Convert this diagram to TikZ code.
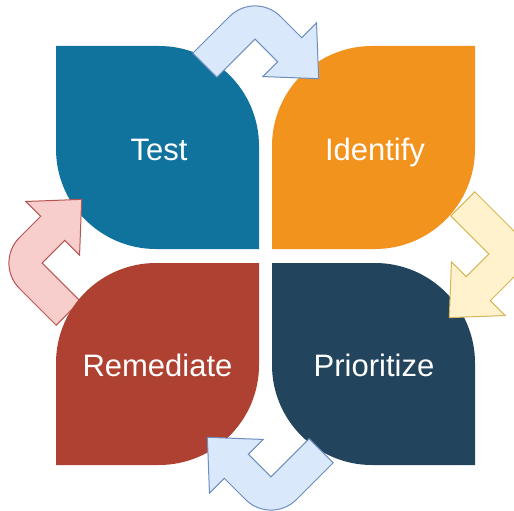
\documentclass[tikz,border=0pt]{standalone}
\usepackage{fontspec}
\setmainfont{Liberation Sans}
\definecolor{cTest}{HTML}{10739E}
\definecolor{cIdent}{HTML}{F2931E}
\definecolor{cPrio}{HTML}{23445D}
\definecolor{cRem}{HTML}{AE4132}
\definecolor{blueFill}{HTML}{DAE8FC}
\definecolor{blueLine}{HTML}{6C8EBF}
\definecolor{yelFill}{HTML}{FFF2CC}
\definecolor{yelLine}{HTML}{D6B656}
\definecolor{redFill}{HTML}{F8CECC}
\definecolor{redLine}{HTML}{B85450}
\newcommand{\cyclearrow}[5]{%
  \begin{scope}[shift={#1}, x={#2}, y={#3}]
    \filldraw[fill=#4, draw=#5, line width=1pt, line join=miter]
      (0,88) -- (0,36) .. controls (0,16.1) and (16.1,0) .. (36,0)
      -- (66,0) -- (66,-21) -- (107,17) -- (66,55) -- (66,34)
      -- (34,34) -- (34,88) -- cycle;
  \end{scope}}
\begin{document}
\begin{tikzpicture}[x=1pt,y=-1pt,
  lbl/.style={text=white, font=\fontsize{31}{37}\selectfont, inner sep=0pt, anchor=base}]
\useasboundingbox (0,0) rectangle (514,511);
\clip (0,0) rectangle (514,511);
% leaves
\fill[cTest] (56,46) -- (159,46) .. controls (214.2,46) and (259,90.8) .. (259,146)
  -- (259,249) -- (156,249) .. controls (100.8,249) and (56,204.2) .. (56,149) -- cycle;
\fill[cIdent] (475,46) -- (475,149) .. controls (475,204.2) and (430.2,249) .. (375,249)
  -- (272,249) -- (272,146) .. controls (272,90.8) and (316.8,46) .. (372,46) -- cycle;
\fill[cPrio] (272,263) -- (375,263) .. controls (430.2,263) and (475,307.8) .. (475,363)
  -- (475,465) -- (372,465) .. controls (316.8,465) and (272,420.2) .. (272,365) -- cycle;
% red arrow (behind Remediate)
\cyclearrow{(-6,263)}{(0.7071pt,0.7071pt)}{(0.7071pt,-0.7071pt)}{redFill}{redLine}
\fill[cRem] (259,263) -- (259,365) .. controls (259,420.2) and (214.2,465) .. (159,465)
  -- (56,465) -- (56,363) .. controls (56,307.8) and (100.8,263) .. (156,263) -- cycle;
% other arrows
\cyclearrow{(255,-9)}{(0.7071pt,-0.7071pt)}{(-0.7071pt,-0.7071pt)}{blueFill}{blueLine}
\cyclearrow{(537,254)}{(-0.7071pt,-0.7071pt)}{(-0.7071pt,0.7071pt)}{yelFill}{yelLine}
\cyclearrow{(271,525)}{(-0.7071pt,0.7071pt)}{(0.7071pt,0.7071pt)}{blueFill}{blueLine}
% labels
\node[lbl] (test) at (159,160) {Test};
\node[lbl] (identify) at (375,160) {Identify};
\node[lbl] (prioritize) at (374,376) {Prioritize};
\node[lbl] (remediate) at (157.5,376) {Remediate};
\end{tikzpicture}
\end{document}
